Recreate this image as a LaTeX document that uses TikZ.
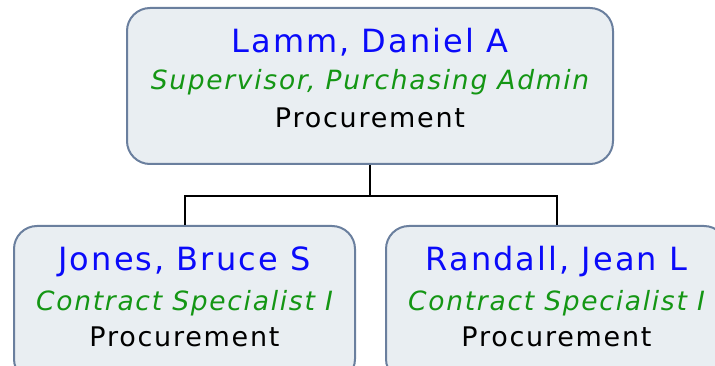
\documentclass[tikz,border=0pt]{standalone}
\usepackage{fontspec}
\setmainfont[LetterSpace=6.5]{DejaVu Sans}
\usepackage{tikz}
\usetikzlibrary{positioning}
\definecolor{boxfill}{RGB}{233,238,242}
\definecolor{boxline}{RGB}{106,127,158}
\definecolor{namecol}{RGB}{10,10,250}
\definecolor{titlecol}{RGB}{20,150,20}
\newcommand\namefont{\fontsize{32}{38}\selectfont}
\newcommand\titlefont{\fontsize{26.5}{32}\selectfont\itshape}
\newcommand\deptfont{\fontsize{27}{32}\selectfont}

\begin{document}
\begin{tikzpicture}[x=1pt,y=-1pt,
                      person node/.style={draw=boxline,fill=boxfill,line width=2pt,
                                          rounded corners=23pt,minimum width=341pt,
                                          minimum height=156pt,inner sep=0pt},
                      name text/.style={anchor=base,text=namecol,font=\namefont,inner sep=0pt},
                      title text/.style={anchor=base,text=titlecol,font=\titlefont,inner sep=0pt},
                      dept text/.style={anchor=base,text=black,font=\deptfont,inner sep=0pt}]

        \useasboundingbox (0,0) rectangle (715,366);
        \clip (0,0) rectangle (715,366);

        \node[person node,minimum width=486pt] (1) at (370,86) {};
        \node[person node] (2) at (184.5,304) {};
        \node[person node] (3) at (556.5,304) {};

        \node[name text] (1n) at (370,53) {Lamm, Daniel A};
        \node[title text] (1t) at (370,90) {Supervisor, Purchasing Admin};
        \node[dept text] (1d) at (370,128) {Procurement};

        \node[name text] (2n) at (184.5,271) {Jones, Bruce S};
        \node[title text] (2t) at (184.5,310) {Contract Specialist I};
        \node[dept text] (2d) at (184.5,346) {Procurement};

        \node[name text] (3n) at (556.5,271) {Randall, Jean L};
        \node[title text] (3t) at (556.5,310) {Contract Specialist I};
        \node[dept text] (3d) at (556.5,346) {Procurement};

        \draw[line width=2pt]
        (1.south) -- ++(0,31) coordinate (m) -| (2.north)
        (m) -| (3.north)
        ;
    \end{tikzpicture}
\end{document}
